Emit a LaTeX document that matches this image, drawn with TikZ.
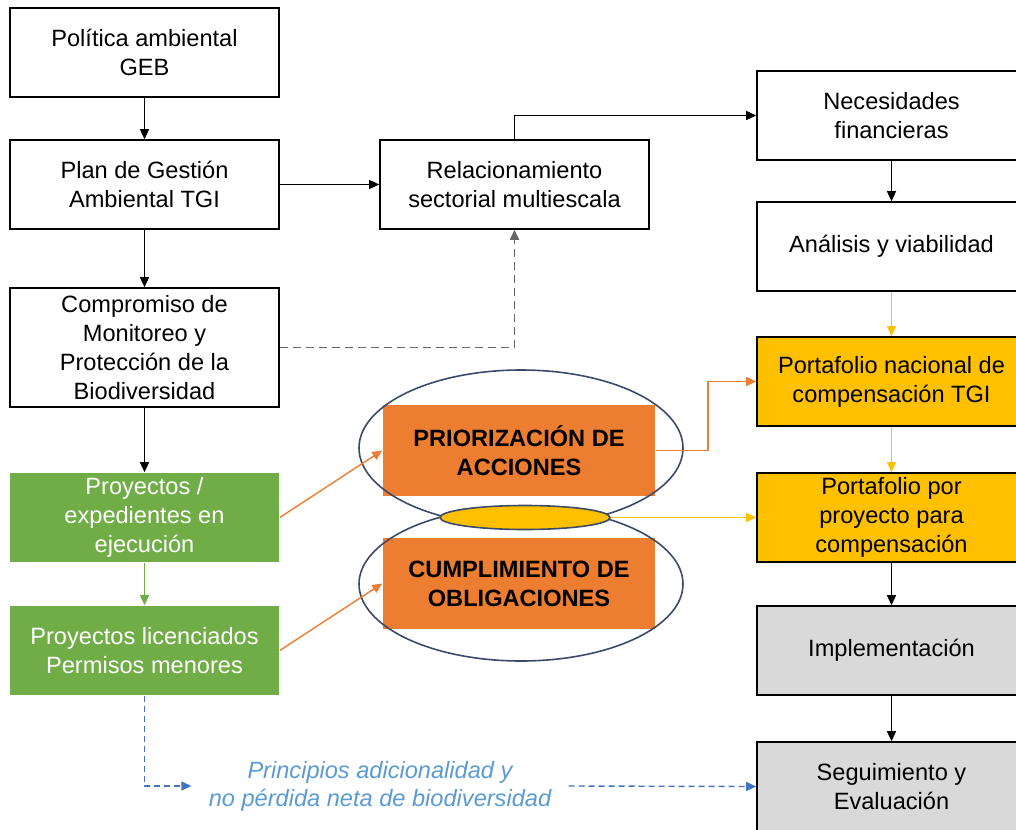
\documentclass[tikz,border=0pt]{standalone}
\usepackage{fontspec}
\setmainfont{Liberation Sans}
\usetikzlibrary{arrows.meta,shapes.geometric}
\definecolor{tgiGreen}{HTML}{70AD47}
\definecolor{tgiOrange}{HTML}{ED7D31}
\definecolor{tgiYellow}{HTML}{FFC000}
\definecolor{tgiGray}{HTML}{D9D9D9}
\definecolor{tgiNavy}{HTML}{3B4A68}
\definecolor{tgiBlue}{HTML}{4472C4}
\definecolor{tgiText}{HTML}{5B9BD5}
\begin{document}
\begin{tikzpicture}[x=0.5pt,y=-0.5pt,
  box/.style={draw=black,line width=0.8pt,minimum width=134.5pt,minimum height=44.5pt,
    inner sep=2pt,align=center,font=\fontsize{11.8}{14.5}\selectfont},
  greenbox/.style={box,draw=none,fill=tgiGreen,text=white},
  orangebox/.style={box,draw=none,fill=tgiOrange,minimum width=136pt,minimum height=45.5pt,
    font=\fontsize{11.8}{14.5}\selectfont\bfseries},
  arr/.style={line width=0.7pt,-{Triangle[length=5pt,width=4.5pt]}}]
\useasboundingbox (0,0) rectangle (1016,829);
%left column
\node[box] (pol) at (144.5,52.5) {Política ambiental\\GEB};
\node[box] (plan) at (144.5,184.5) {Plan de Gestión\\Ambiental TGI};
\node[box,minimum height=59.5pt] (comp) at (144.5,347.5) {Compromiso de\\Monitoreo y\\Protección de la\\Biodiversidad};
\node[greenbox] (proy) at (144.5,517.5) {Proyectos /\\expedientes en\\ejecución};
\node[greenbox] (lic) at (144.5,650.5) {Proyectos licenciados\\Permisos menores};
%middle
\node[box] (rel) at (514.5,184.5) {Relacionamiento\\sectorial multiescala};
\node[orangebox] (prio) at (519,450.5) {PRIORIZACIÓN DE\\ACCIONES};
\node[orangebox] (cump) at (519,583.5) {CUMPLIMIENTO DE\\OBLIGACIONES};
\draw[tgiNavy,line width=0.8pt] (521,448) ellipse [x radius=81pt, y radius=39pt];
\draw[tgiNavy,line width=0.8pt] (521,584) ellipse [x radius=81pt, y radius=38.5pt];
\node[ellipse,draw=tgiNavy,line width=0.8pt,fill=tgiYellow,minimum width=85pt,minimum height=12pt,inner sep=0pt] (link) at (525,517.5) {};
\node[font=\fontsize{11.8}{14}\selectfont\itshape,text=tgiText,align=center,inner sep=8.5pt] (princ) at (380,786) {Principios adicionalidad y\\no pérdida neta de biodiversidad};
%right column
\node[box] (nec) at (891.5,115.5) {Necesidades\\financieras};
\node[box] (ana) at (891.5,246.5) {Análisis y viabilidad};
\node[box,fill=tgiYellow] (pnac) at (891.5,381.5) {Portafolio nacional de\\compensación TGI};
\node[box,fill=tgiYellow] (ppp) at (891.5,517.5) {Portafolio por\\proyecto para\\compensación};
\node[box,fill=tgiGray] (impl) at (891.5,650.5) {Implementación};
\node[box,fill=tgiGray] (seg) at (891.5,786.5) {Seguimiento y\\Evaluación};
%connectors
\draw[arr] (pol) -- (plan);
\draw[arr] (plan) -- (comp);
\draw[arr] (comp) -- (proy);
\draw[arr,tgiGreen] (proy) -- (lic);
\draw[arr] (plan) -- (rel);
\draw[arr] (rel.north) |- (nec.west);
\draw[arr,line width=0.9pt,dash pattern=on 4pt off 2.5pt,black!60] (comp.east) -| (rel.south);
\draw[arr] (nec) -- (ana);
\draw[arr,tgiYellow] (ana) -- (pnac);
\draw[arr,tgiYellow] (pnac) -- (ppp);
\draw[arr] (ppp) -- (impl);
\draw[arr] (impl) -- (seg);
\draw[arr,tgiOrange] (prio.east) -- ++(52,0) |- (pnac.west);
\draw[arr,tgiYellow] (link.east) -- (ppp.west);
\draw[arr,tgiOrange] (proy.east) -- (prio.west);
\draw[arr,tgiOrange] (lic.east) -- (cump.west);
\draw[arr,tgiBlue,dash pattern=on 3pt off 2pt] (lic.south) |- (princ.west);
\draw[arr,tgiBlue,dash pattern=on 3pt off 2pt] (princ.east) -- (seg.west);
\end{tikzpicture}
\end{document}
